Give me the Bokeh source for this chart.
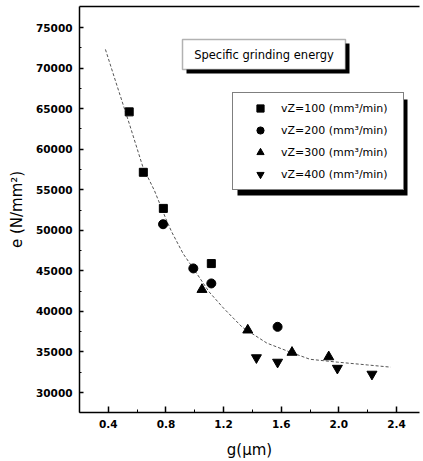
from bokeh.plotting import figure
from bokeh.models import (Range1d, FixedTicker, Legend, LegendItem, BoxAnnotation,
                          Label, LinearAxis, NumeralTickFormatter)
from bokeh.embed import file_html
from bokeh.resources import INLINE

# ---- data ----
g_100 = [0.545, 0.643, 0.782, 1.115]
e_100 = [64600, 57150, 52700, 45900]

g_200 = [0.780, 0.990, 1.115, 1.575]
e_200 = [50750, 45300, 43450, 38100]

g_300 = [1.050, 1.368, 1.675, 1.930]
e_300 = [42700, 37700, 34950, 34400]

g_400 = [1.428, 1.575, 1.990, 2.230]
e_400 = [34300, 33750, 33000, 32270]

g_fit = [0.38, 0.45, 0.55, 0.64, 0.72, 0.80, 0.84, 0.92, 0.99, 1.10, 1.20, 1.33,
         1.50, 1.66, 1.80, 1.99, 2.20, 2.36]
e_fit = [72300, 68400, 62900, 57800, 54900, 51400, 49800, 47100, 45300, 42400, 40400, 38050,
         36100, 35000, 34100, 33750, 33400, 33130]

x_ticks = [0.4, 0.8, 1.2, 1.6, 2.0, 2.4]
x_minor = [0.2, 0.6, 1.0, 1.4, 1.8, 2.2]
y_ticks = [30000, 35000, 40000, 45000, 50000, 55000, 60000, 65000, 70000, 75000]
y_minor = [32500, 37500, 42500, 47500, 52500, 57500, 62500, 67500, 72500]

labels = ["vZ=100 (mm³/min)", "vZ=200 (mm³/min)", "vZ=300 (mm³/min)", "vZ=400 (mm³/min)"]
title_text = "Specific grinding energy"

X_START, X_END = 0.2, 2.56
Y_START, Y_END = 27540, 77590

FONT = "DejaVu Sans"

p = figure(width=423, height=461,
           x_range=Range1d(X_START, X_END), y_range=Range1d(Y_START, Y_END),
           output_backend="svg", toolbar_location=None,
           min_border_left=79, min_border_right=4, min_border_top=6, min_border_bottom=49)

p.outline_line_color = None
p.outline_line_alpha = 0
p.outline_line_width = 0
p.grid.visible = False
p.background_fill_color = "white"
p.border_fill_color = "white"

# axes
xa = p.xaxis[0]
xa.ticker = FixedTicker(ticks=x_ticks, minor_ticks=x_minor)
xa.formatter = NumeralTickFormatter(format="0.0")
xa.axis_label = "g(μm)"
ya = p.yaxis[0]
ya.ticker = FixedTicker(ticks=y_ticks, minor_ticks=y_minor)
ya.axis_label = "e (N/mm²)"

for ax in (xa, ya):
    ax.axis_line_color = "black"
    ax.axis_line_width = 1.5
    ax.major_tick_line_color = "black"
    ax.minor_tick_line_color = "black"
    ax.major_tick_line_width = 1.5
    ax.major_tick_out = 0
    ax.minor_tick_out = 0
    ax.major_label_text_font = FONT
    ax.major_label_text_font_size = "10.5px"
    ax.major_label_text_font_style = "bold"
    ax.major_label_text_color = "black"
    ax.axis_label_text_font = FONT
    ax.axis_label_text_font_size = "15px"
    ax.axis_label_text_font_style = "normal"
    ax.axis_label_text_color = "black"

xa.major_tick_in = 6
xa.minor_tick_in = 3
xa.major_label_standoff = 7
xa.axis_label_standoff = 10
ya.major_tick_in = 4
ya.minor_tick_in = 2
ya.major_label_standoff = 7
ya.axis_label_standoff = 7

# top border line as a bare axis
top = LinearAxis(ticker=FixedTicker(ticks=[]), axis_line_color="black", axis_line_width=1.5,
                 major_tick_in=0, major_tick_out=0, minor_tick_in=0, minor_tick_out=0,
                 major_label_standoff=0, major_label_text_font_size="0px",
                 axis_label_standoff=0)
p.add_layout(top, "above")

# fitted curve
p.line(g_fit, e_fit, line_color="#555555", line_width=1, line_dash="3 2")

# data points
r1 = p.scatter(g_100, e_100, marker="square", size=8, color="black")
r2 = p.scatter(g_200, e_200, marker="circle", size=9, color="black")
r3 = p.scatter(g_300, e_300, marker="triangle", size=10, color="black")
r4 = p.scatter(g_400, e_400, marker="inverted_triangle", size=10, color="black")

# title box with shadow
p.add_layout(BoxAnnotation(left=107, right=270, bottom=339, top=369,
                           left_units="screen", right_units="screen",
                           bottom_units="screen", top_units="screen",
                           fill_color="black", fill_alpha=1, line_color=None, level="underlay"))
p.add_layout(BoxAnnotation(left=103, right=266, bottom=343, top=373,
                           left_units="screen", right_units="screen",
                           bottom_units="screen", top_units="screen",
                           fill_color="white", fill_alpha=1, line_color="black", line_width=1.5,
                           level="underlay"))
p.add_layout(Label(x=184.5, y=358, x_units="screen", y_units="screen", text=title_text,
                   text_align="center", text_baseline="middle", text_font=FONT,
                   text_font_size="11.5px", text_color="black"))

# legend shadow
p.add_layout(BoxAnnotation(left=158, right=328, bottom=217, top=313,
                           left_units="screen", right_units="screen",
                           bottom_units="screen", top_units="screen",
                           fill_color="black", fill_alpha=1, line_color=None, level="underlay"))

legend = Legend(items=[LegendItem(label=labels[0], renderers=[r1]),
                       LegendItem(label=labels[1], renderers=[r2]),
                       LegendItem(label=labels[2], renderers=[r3]),
                       LegendItem(label=labels[3], renderers=[r4])],
                location=(153, 222), margin=0, padding=6, spacing=4,
                glyph_width=42, glyph_height=18, label_height=18, label_width=116,
                label_standoff=0, border_line_color="black", border_line_width=1.5,
                background_fill_color="white", background_fill_alpha=1,
                label_text_font=FONT, label_text_font_size="11px", label_text_color="black")
p.add_layout(legend)

# white strip hiding the frame's right edge (the reference has an open right side)
p.add_layout(BoxAnnotation(left=414, right=423, top=9, bottom=410,
                           left_units="canvas", right_units="canvas",
                           top_units="canvas", bottom_units="canvas",
                           fill_color="white", fill_alpha=1, line_color=None, level="overlay"))

open("out.html", "w").write(file_html(p, INLINE))
